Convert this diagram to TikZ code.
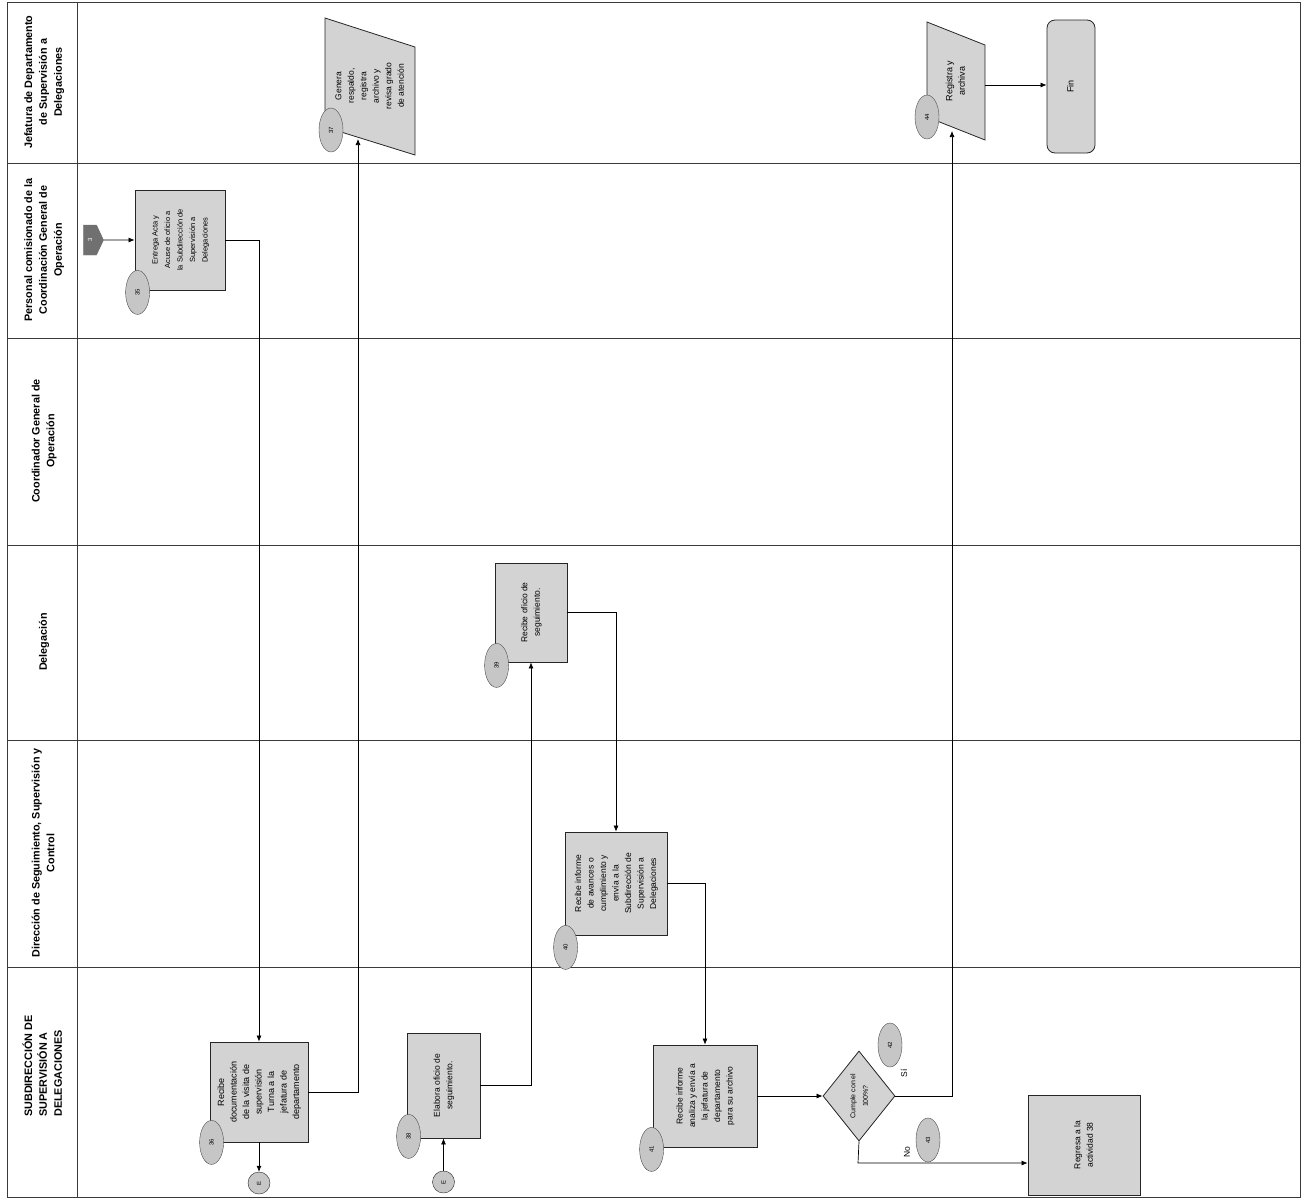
\documentclass[tikz,border=0pt]{standalone}
\usepackage{fontspec}
\setmainfont{Liberation Sans}
\usetikzlibrary{shapes.geometric,shapes.symbols,arrows.meta}
\definecolor{LaneLine}{HTML}{3A3A3A}
\definecolor{BoxFill}{HTML}{D3D3D3}
\definecolor{OvalFill}{HTML}{C6C6C6}
\definecolor{ConnFill}{HTML}{707070}
\newcommand{\vtext}[2][8.5]{\rotatebox{90}{\fontsize{#1}{12.5}\selectfont\begin{tabular}{@{}c@{}}#2\end{tabular}}}
\newcommand{\lanetext}[1]{\rotatebox{90}{\fontsize{10.8}{15}\selectfont\bfseries\begin{tabular}{@{}c@{}}#1\end{tabular}}}
\newcommand{\numtext}[1]{\rotatebox{90}{\fontsize{6}{7}\selectfont #1}}
\tikzset{
  act/.style={draw=black!85,fill=BoxFill,line width=0.8pt,inner sep=0pt},
  num/.style={ellipse,draw=black!70,fill=OvalFill,minimum width=24pt,minimum height=44pt,inner sep=0pt},
  para/.style={draw=black!85,fill=BoxFill,line width=0.8pt},
  decision/.style={diamond,draw=black!85,fill=BoxFill,line width=0.8pt,minimum width=72pt,minimum height=90pt,inner sep=0pt,aspect=0.8},
  endbox/.style={draw=black!85,fill=BoxFill,rounded corners=8pt,line width=0.8pt,minimum width=48pt,minimum height=133pt,inner sep=0pt},
  pageconn/.style={signal,signal to=east,signal pointer angle=130,fill=ConnFill,draw=ConnFill,minimum width=20pt,minimum height=30pt,inner sep=0pt},
  inconn/.style={circle,draw=black!85,fill=OvalFill,minimum size=22pt,inner sep=0pt},
  flow/.style={draw=black,line width=0.7pt,-{Latex[length=6pt,width=5pt]}}
}

\begin{document}
\begin{tikzpicture}[x=1pt,y=-1pt]
\path[use as bounding box] (0,0) rectangle (1302,1200);
% lanes
\draw[LaneLine,line width=0.9pt] (7,2) rectangle (1300,1197);
\draw[LaneLine,line width=0.9pt] (77,2) -- (77,1197);
\foreach \yy in {163,338,545,740,967}
  \draw[LaneLine,line width=0.9pt] (7,\yy) -- (1300,\yy);
\node (l1) at (44,82) {\lanetext{Jefatura de Departamento\\de Supervisión a\\Delegaciones}};
\node (l2) at (44,250) {\lanetext{Personal comisionado de la\\Coordinación General de\\Operación}};
\node (l3) at (44,441) {\lanetext{Coordinador General de\\Operación}};
\node (l4) at (44,642) {\lanetext{Delegación}};
\node (l5) at (44,853) {\lanetext{Dirección de Seguimiento, Supervisión y\\Control}};
\node (l6) at (44,1066) {\rotatebox{90}{\fontsize{10.8}{15}\selectfont\bfseries\begin{tabular}{@{}l@{}}SUBDIRECCIÓN DE\\SUPERVISIÓN A\\DELEGACIONES\end{tabular}}};

% activities
\node[pageconn] (c3) at (90,240) {\numtext{\color{white}3}};
\node[act,minimum width=90pt,minimum height=100pt] (a35) at (180,240)
  {\vtext[7.5]{Entrega Acta y\\Acuse de oficio a\\la Subdirección de\\Supervisión a\\Delegaciones}};
\node[num] (n35) at ([xshift=3pt,yshift=-2pt]a35.south west) {\numtext{35}};

\node[act,minimum width=98pt,minimum height=100pt] (a36) at (259,1092)
  {\vtext[9]{Recibe\\documentación\\de la visita de\\supervisión\\Turna a la\\jefatura de\\departamento}};
\node[num] (n36) at ([xshift=2pt]a36.south west) {\numtext{36}};
\node[inconn] (e1) at (259,1183) {\numtext{E}};

\filldraw[para] (325,18) -- (415,47) -- (415,155) -- (325,127) -- cycle;
\node (a37) at (370,86) {\vtext{Genera\\respaldo,\\registra\\archivo y\\revisa grado\\de atención}};
\coordinate (in37) at (358,139);
\node[num] (n37) at (331,130) {\numtext{37}};

\node[act,minimum width=73pt,minimum height=105pt] (a38) at (443.5,1085.5)
  {\vtext{Elabora oficio de\\seguimiento.}};
\node[num] (n38) at ([xshift=2pt,yshift=2pt]a38.south west) {\numtext{38}};
\node[inconn] (e2) at (443.5,1182) {\numtext{E}};

\node[act,minimum width=72pt,minimum height=99pt] (a39) at (531,612.5)
  {\vtext{Recibe oficio de\\seguimiento.}};
\node[num] (n39) at ([xshift=2pt,yshift=-3pt]a39.south west) {\numtext{39}};

\node[act,minimum width=102pt,minimum height=103pt] (a40) at (616,883.5)
  {\vtext{Recibe informe\\de avances o\\cumplimiento y\\envía a la\\Subdirección de\\Supervisión a\\Delegaciones}};
\node[num] (n40) at ([xshift=1pt,yshift=-12pt]a40.south west) {\numtext{40}};

\node[act,minimum width=104pt,minimum height=102pt] (a41) at (705,1096)
  {\vtext{Recibe informe\\analiza y envía a\\la jefatura de\\departamento\\para su archivo}};
\node[num] (n41) at ([xshift=-1pt,yshift=-2pt]a41.south west) {\numtext{41}};

\node[decision] (d42) at (859,1096) {\vtext[7]{Cumple con el\\100\%?}};
\node[num] (n42) at (890,1045) {\numtext{42}};
\node (si) at (904,1073) {\rotatebox{90}{\fontsize{8.5}{10}\selectfont Sí}};
\node (no) at (907,1152) {\rotatebox{90}{\fontsize{8.5}{10}\selectfont No}};
\node[num] (n43) at (928,1140) {\numtext{43}};
\node[act,minimum width=112pt,minimum height=100pt] (a43) at (1084,1145)
  {\vtext{Regresa a la\\actividad 38}};

\filldraw[para] (927,22) -- (985,45) -- (985,140) -- (927,117) -- cycle;
\node (a44) at (956,81) {\vtext[9]{Registra y\\archiva}};
\coordinate (in44) at (952,131);
\coordinate (out44) at (985,85);
\node[num] (n44) at (927,117) {\numtext{44}};
\node[endbox] (fin) at (1071,86.5) {\vtext[9]{Fin}};

% connectors
\draw[flow] (c3) -- (a35);
\draw[flow] (a35.east) -| (a36.north);
\draw[flow] (a36.south) -- (e1);
\draw[flow] (a36.east) -| (in37);
\draw[flow] (e2) -- (a38);
\draw[flow] (a38.east) -| (a39.south);
\draw[flow] (a39.east) -| (a40.north);
\draw[flow] (a40.east) -| (a41.north);
\draw[flow] (a41.east) -- (d42.west);
\draw[flow] (d42.east) -| (in44);
\coordinate (noturn) at (858,1163);
\draw[flow] (d42.south) -- (noturn) -- (noturn -| a43.west);
\draw[flow] (out44) -- (out44 -| fin.west);
\end{tikzpicture}
\end{document}
